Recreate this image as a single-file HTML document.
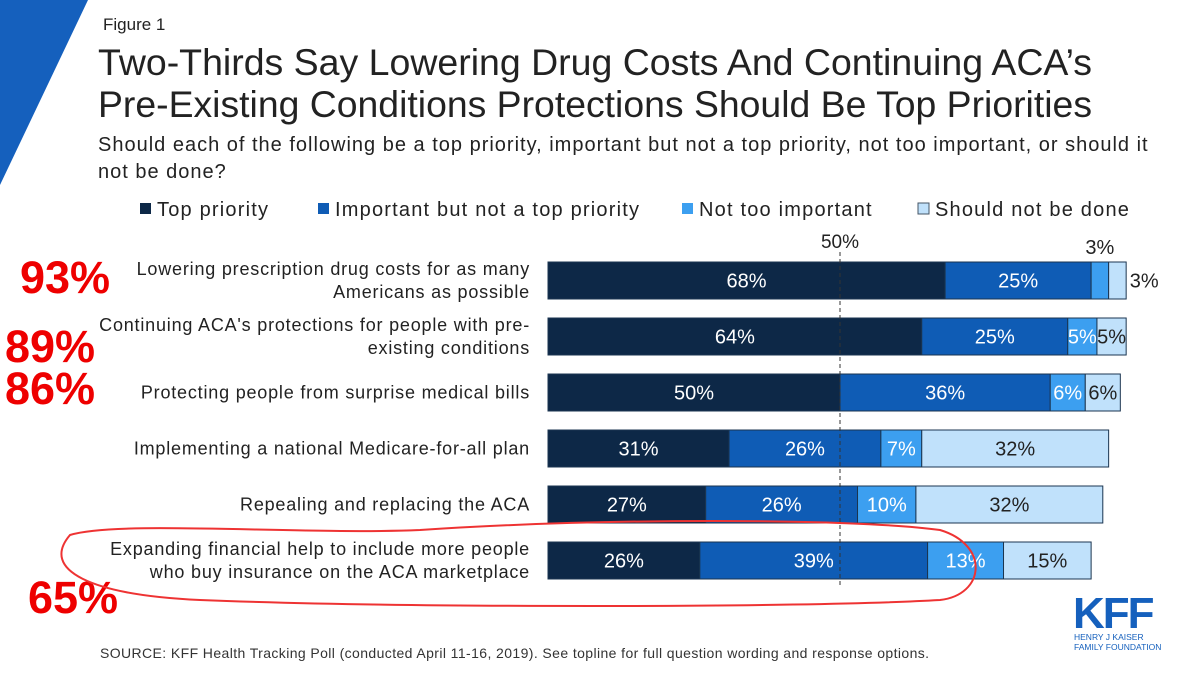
<!DOCTYPE html>
<html><head><meta charset="utf-8"><style>
body{margin:0;width:1200px;height:675px;overflow:hidden;background:#fff;font-family:"Liberation Sans",sans-serif;position:relative}
.a{position:absolute}
</style></head><body>
<svg class="a" style="left:0;top:0" width="1200" height="675">
<polygon points="0,0 88,0 0,185" fill="#1560bd"/>
<text x="103" y="30" font-size="17" fill="#222">Figure 1</text>
<text x="98" y="75" font-size="37" fill="#222" textLength="994" lengthAdjust="spacingAndGlyphs">Two-Thirds Say Lowering Drug Costs And Continuing ACA’s</text>
<text x="98" y="117" font-size="37" fill="#222" textLength="994" lengthAdjust="spacingAndGlyphs">Pre-Existing Conditions Protections Should Be Top Priorities</text>
<text x="98" y="151" font-size="20" fill="#222" letter-spacing="1">Should each of the following be a top priority, important but not a top priority, not too important, or should it</text>
<text x="98" y="178" font-size="20" fill="#222" letter-spacing="1">not be done?</text>
<g id="legend"></g>
<g id="bars"></g>
<line x1="840" y1="252" x2="840" y2="585" stroke="#333" stroke-dasharray="4,3"/>
<text x="840" y="248" font-size="19" text-anchor="middle" fill="#222">50%</text>
<g fill="#e00" font-size="45" font-weight="bold" font-family="Liberation Sans,sans-serif">
<text x="20" y="293">93%</text>
<text x="5" y="362">89%</text>
<text x="5" y="404">86%</text>
<text x="28" y="613">65%</text>
</g>
<path d="M70,535 C120,520 300,535 420,530 C600,518 850,518 940,530 C990,545 985,595 940,600 C800,608 400,608 200,600 C90,595 40,570 70,535 Z" fill="none" stroke="#e33" stroke-width="2"/>
<text x="100" y="658" font-size="14" fill="#333" letter-spacing="0.4">SOURCE: KFF Health Tracking Poll (conducted April 11-16, 2019). See topline for full question wording and response options.</text>
<text x="1073" y="628" font-size="44" font-weight="bold" fill="#1560bd" letter-spacing="-2">KFF</text>
<text x="1074" y="640" font-size="8.5" fill="#1560bd">HENRY J KAISER</text>
<text x="1074" y="650" font-size="8.5" fill="#1560bd">FAMILY FOUNDATION</text>
</svg>
<script>
const categories=[["Lowering prescription drug costs for as many","Americans as possible"],["Continuing ACA's protections for people with pre-","existing conditions"],["Protecting people from surprise medical bills"],["Implementing a national Medicare-for-all plan"],["Repealing and replacing the ACA"],["Expanding financial help to include more people","who buy insurance on the ACA marketplace"]];
const topPriority=[68,64,50,31,27,26];
const important=[25,25,36,26,26,39];
const notTooImportant=[3,5,6,7,10,13];
const shouldNotBeDone=[3,5,6,32,32,15];
const seriesNames=["Top priority","Important but not a top priority","Not too important","Should not be done"];
const colors=["#0d2847","#0f5cb5","#3c9ff0","#c0e1fb"];
const textColors=["#fff","#fff","#fff","#222"];
const NS="http://www.w3.org/2000/svg";
const x0=548,k=5.84,rowTop=262,rowStep=56,bh=37;
const xs=v=>v*k;
function mk(t,a,p){const e=document.createElementNS(NS,t);for(const q in a)e.setAttribute(q,a[q]);p.appendChild(e);return e;}
const lg=document.getElementById('legend');
const lx=[140,318,682,918];
seriesNames.forEach((n,i)=>{
 const r=mk('rect',{x:lx[i],y:203,width:11,height:11,fill:colors[i],stroke:i==3?'#456':'none'},lg);
 
 
 const t=mk('text',{x:lx[i]+17,y:216,'font-size':20,'letter-spacing':1.2,fill:'#222'},lg);t.textContent=n;
 
 
});
const g=document.getElementById('bars');
const series=[topPriority,important,notTooImportant,shouldNotBeDone];
categories.forEach((c,ri)=>{
 const y=rowTop+ri*rowStep,cy=y+bh/2;
 c.forEach((line,li)=>{
  const t=mk('text',{x:530,y:cy+6+(li-(c.length-1)/2)*23,'font-size':18,'letter-spacing':0.8,'text-anchor':'end',fill:'#222'},g);t.textContent=line;
  
  
 });
 let x=x0;
 series.forEach((s,si)=>{
  const w=xs(s[ri]);
  const r=mk('rect',{x:x,y:y,width:w,height:bh,fill:colors[si],stroke:'#1b3550','stroke-width':1},g);
  
  
  let tx=x+w/2,ty=cy+7,tc=textColors[si];
  if(ri===0&&si===2){ty=y-8;tc='#222';}
  if(ri===0&&si===3){tx=x+w+18;tc='#222';}
  const t=mk('text',{x:tx,y:ty,'font-size':20,'text-anchor':'middle',fill:tc},g);t.textContent=s[ri]+'%';
  
  
  x+=w;
 });
});
</script>
</body></html>
